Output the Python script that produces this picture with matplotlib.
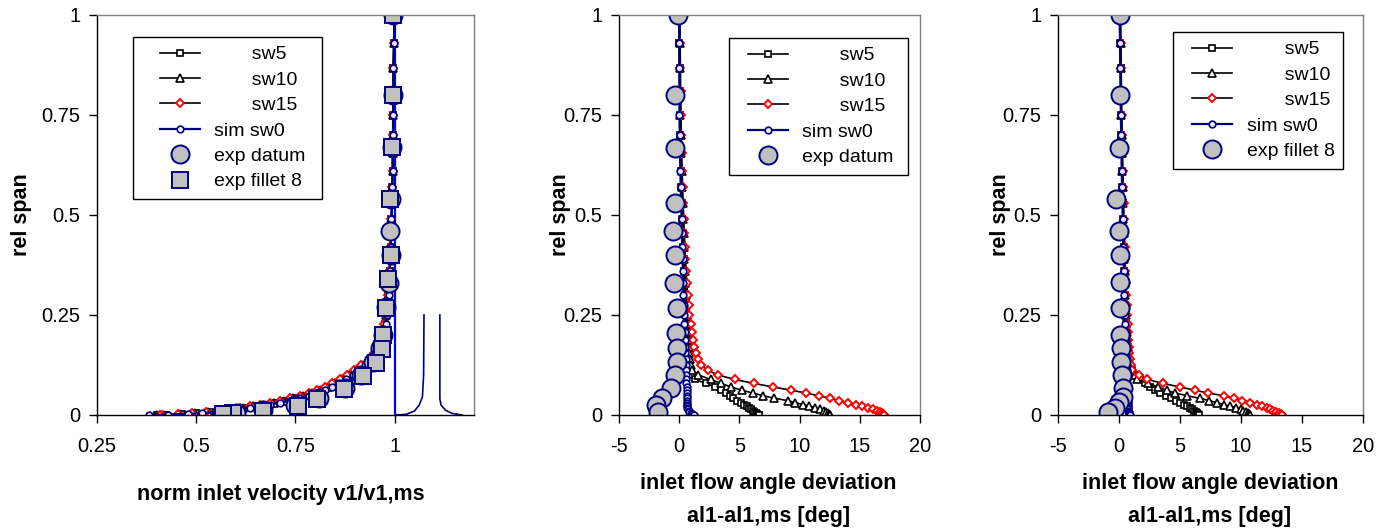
import matplotlib
matplotlib.use('Agg')
import matplotlib.pyplot as plt
from matplotlib.legend_handler import HandlerLine2D

plt.rcParams['font.family'] = ['Liberation Sans', 'DejaVu Sans']

# ---------------- data ----------------
span_sim = [1.0, 0.93, 0.867, 0.81, 0.75, 0.70, 0.655, 0.61, 0.57, 0.53, 0.49, 0.455,
            0.42, 0.39, 0.36, 0.33, 0.30, 0.275, 0.25, 0.228, 0.207, 0.188, 0.17, 0.154,
            0.139, 0.125, 0.112, 0.10, 0.089, 0.079, 0.07, 0.062, 0.055, 0.048, 0.042,
            0.036, 0.031, 0.026, 0.022, 0.018, 0.014, 0.011, 0.008, 0.005, 0.003, 0.001, 0.0]

# left panel: normalised inlet velocity
v_sw5 = [1.0, 0.998, 0.997, 0.997, 0.996, 0.996, 0.995, 0.995, 0.994, 0.993, 0.992, 0.991,
         0.99, 0.989, 0.988, 0.986, 0.984, 0.982, 0.979, 0.976, 0.972, 0.966, 0.96, 0.952,
         0.942, 0.921, 0.906, 0.89, 0.872, 0.854, 0.836, 0.817, 0.796, 0.774, 0.75,
         0.725, 0.7, 0.674, 0.648, 0.622, 0.594, 0.566, 0.535, 0.5, 0.465, 0.425, 0.40]
v_sw10 = [1.0, 0.998, 0.997, 0.997, 0.996, 0.996, 0.995, 0.995, 0.994, 0.993, 0.992, 0.991,
          0.99, 0.989, 0.987, 0.986, 0.984, 0.981, 0.978, 0.975, 0.971, 0.965, 0.958, 0.95,
          0.94, 0.918, 0.903, 0.886, 0.868, 0.85, 0.831, 0.812, 0.791, 0.769, 0.745,
          0.72, 0.695, 0.669, 0.643, 0.617, 0.589, 0.561, 0.53, 0.496, 0.46, 0.42, 0.40]
v_sw15 = [1.0, 0.998, 0.997, 0.997, 0.996, 0.996, 0.995, 0.995, 0.994, 0.993, 0.992, 0.99,
          0.989, 0.988, 0.986, 0.985, 0.983, 0.98, 0.977, 0.973, 0.969, 0.963, 0.956, 0.947,
          0.937, 0.914, 0.898, 0.881, 0.862, 0.843, 0.824, 0.804, 0.783, 0.761, 0.737,
          0.712, 0.687, 0.661, 0.636, 0.61, 0.582, 0.555, 0.525, 0.49, 0.455, 0.415, 0.41]
v_sim0 = [1.0, 0.998, 0.997, 0.997, 0.996, 0.996, 0.995, 0.995, 0.994, 0.993, 0.992, 0.991,
          0.99, 0.989, 0.988, 0.987, 0.985, 0.983, 0.98, 0.977, 0.973, 0.968, 0.962, 0.955,
          0.946, 0.925, 0.91, 0.895, 0.878, 0.86, 0.843, 0.825, 0.805, 0.783, 0.76,
          0.735, 0.71, 0.685, 0.66, 0.635, 0.605, 0.58, 0.55, 0.515, 0.48, 0.43, 0.38]
v_ref_x = [1.0, 1.0, 1.01]
v_ref_y = [1.0, 0.0, 0.0]
v_tail1_x = [1.01, 1.03, 1.05, 1.062, 1.07, 1.073, 1.074]
v_tail1_y = [0.0, 0.002, 0.01, 0.025, 0.045, 0.10, 0.25]
v_tail2_x = [1.114, 1.114, 1.117, 1.128, 1.145, 1.17]
v_tail2_y = [0.25, 0.04, 0.025, 0.012, 0.004, 0.0]

span_exp_datum_v = [1.0, 0.8, 0.67, 0.54, 0.46, 0.40, 0.33, 0.27, 0.2, 0.167, 0.133, 0.1,
                    0.067, 0.042, 0.025, 0.012, 0.005]
v_exp_datum = [0.996, 0.995, 0.993, 0.99, 0.988, 0.99, 0.985, 0.978, 0.97, 0.962, 0.945,
               0.915, 0.875, 0.81, 0.748, 0.668, 0.60]
span_exp_fillet_v = [1.0, 0.8, 0.67, 0.54, 0.40, 0.34, 0.267, 0.2, 0.165, 0.13, 0.097,
                     0.065, 0.04, 0.023, 0.01, 0.005, 0.003]
v_exp_fillet = [0.996, 0.995, 0.993, 0.988, 0.99, 0.983, 0.977, 0.97, 0.968, 0.953, 0.92,
                0.872, 0.804, 0.756, 0.668, 0.593, 0.567]

# middle panel: inlet flow angle deviation (datum)
a_sw5_d = [0.0, 0.02, 0.03, 0.05, 0.06, 0.1, 0.12, 0.15, 0.18, 0.22, 0.26, 0.3, 0.33, 0.36,
           0.4, 0.43, 0.46, 0.5, 0.53, 0.56, 0.6, 0.63, 0.66, 0.7, 0.74,
           0.8, 0.9, 1.05, 1.3, 2.2, 3.0, 3.45, 3.85, 4.2, 4.5, 4.8, 5.1, 5.4, 5.6, 5.8,
           5.95, 6.1, 6.25, 6.4, 6.5, 6.55, 6.6]
a_sw10_d = [0.0, 0.03, 0.05, 0.07, 0.1, 0.13, 0.16, 0.2, 0.24, 0.28, 0.32, 0.36, 0.4, 0.44,
            0.48, 0.52, 0.56, 0.6, 0.64, 0.68, 0.72, 0.76, 0.8, 0.84, 0.88,
            0.95, 1.1, 1.6, 2.6, 3.5, 4.3, 5.2, 6.1, 7.0, 7.9, 9.0, 9.6, 10.3, 10.8, 11.3,
            11.7, 12.0, 12.2, 12.35, 12.45, 12.5, 12.55]
a_sw15_d = [0.05, 0.08, 0.1, 0.12, 0.15, 0.18, 0.2, 0.25, 0.28, 0.32, 0.38, 0.42, 0.48, 0.52,
            0.58, 0.63, 0.7, 0.78, 0.85, 0.95, 1.05, 1.15, 1.25, 1.38, 1.55,
            1.85, 2.4, 3.2, 4.6, 6.2, 7.8, 9.3, 10.5, 11.6, 12.5, 13.3, 14.0, 14.7, 15.2,
            15.7, 16.1, 16.4, 16.65, 16.85, 16.95, 17.0, 17.05]
a_sim0_d = [-0.02, 0.0, 0.0, 0.02, 0.02, 0.05, 0.06, 0.1, 0.12, 0.15, 0.2, 0.22, 0.25, 0.28,
            0.3, 0.33, 0.35, 0.38, 0.4, 0.42, 0.45, 0.47, 0.5, 0.52, 0.54,
            0.55, 0.57, 0.58, 0.6, 0.6, 0.62, 0.62, 0.63, 0.63, 0.63, 0.64, 0.64, 0.65, 0.66,
            0.68, 0.72, 0.78, 0.85, 0.95, 1.05, 1.15, 1.2]
span_exp_datum_a = [1.0, 0.8, 0.667, 0.53, 0.46, 0.40, 0.33, 0.267, 0.205, 0.167, 0.133,
                    0.10, 0.067, 0.042, 0.025, 0.008]
a_exp_datum = [-0.1, -0.35, -0.35, -0.35, -0.52, -0.35, -0.43, -0.18, -0.27, -0.18, -0.18,
               -0.35, -0.68, -1.4, -1.9, -1.75]

# right panel: inlet flow angle deviation (fillet 8)
a_sw5_f = [0.1, 0.12, 0.14, 0.16, 0.18, 0.2, 0.22, 0.25, 0.28, 0.3, 0.33, 0.35, 0.38, 0.4,
           0.43, 0.45, 0.48, 0.5, 0.53, 0.55, 0.58, 0.6, 0.63, 0.66, 0.72,
           0.85, 1.05, 1.35, 1.75, 2.15, 2.5, 2.95, 3.4, 3.85, 4.25, 4.65, 5.0, 5.3, 5.55,
           5.8, 6.0, 6.15, 6.3, 6.4, 6.45, 6.5, 6.55]
a_sw10_f = [0.1, 0.13, 0.15, 0.17, 0.2, 0.22, 0.25, 0.28, 0.3, 0.33, 0.36, 0.38, 0.41, 0.44,
            0.46, 0.49, 0.52, 0.55, 0.58, 0.61, 0.64, 0.67, 0.7, 0.74, 0.8,
            0.9, 1.1, 1.3, 1.5, 2.4, 3.2, 3.9, 4.6, 5.6, 6.6, 7.4, 8.0, 8.6, 9.1, 9.6, 10.0,
            10.2, 10.4, 10.55, 10.65, 10.7, 10.75]
a_sw15_f = [0.12, 0.15, 0.18, 0.2, 0.23, 0.26, 0.29, 0.32, 0.35, 0.38, 0.41, 0.44, 0.47, 0.5,
            0.53, 0.56, 0.6, 0.63, 0.66, 0.7, 0.73, 0.77, 0.81, 0.85, 0.9,
            0.95, 1.1, 1.6, 2.3, 3.6, 5.0, 6.2, 7.3, 8.6, 9.4, 10.1, 10.7, 11.3, 11.7, 12.1,
            12.4, 12.65, 12.9, 13.1, 13.25, 13.35, 13.4]
a_sim0_f = [0.05, 0.08, 0.1, 0.12, 0.15, 0.18, 0.2, 0.22, 0.25, 0.28, 0.3, 0.32, 0.35, 0.37,
            0.4, 0.42, 0.45, 0.47, 0.5, 0.52, 0.54, 0.56, 0.58, 0.6, 0.62,
            0.63, 0.64, 0.65, 0.66, 0.67, 0.67, 0.68, 0.68, 0.69, 0.69, 0.7, 0.7, 0.71, 0.72,
            0.73, 0.75, 0.77, 0.8, 0.83, 0.86, 0.88, 0.9]
span_exp_fillet_a = [1.0, 0.8, 0.667, 0.54, 0.46, 0.40, 0.333, 0.267, 0.2, 0.167, 0.133,
                     0.1, 0.067, 0.045, 0.033, 0.017, 0.008]
a_exp_fillet = [0.08, 0.08, 0.0, -0.25, 0.0, 0.08, 0.08, 0.08, 0.08, 0.16, 0.16, 0.25, 0.33,
                0.3, 0.0, -0.33, -0.9]

yticks = [0, 0.25, 0.5, 0.75, 1]
ytick_labels = ['0', '0.25', '0.5', '0.75', '1']
xticks_v = [0.25, 0.5, 0.75, 1.0]
xtick_labels_v = ['0.25', '0.5', '0.75', '1']
xticks_a = [-5, 0, 5, 10, 15, 20]
xtick_labels_a = ['-5', '0', '5', '10', '15', '20']

# ---------------- styles ----------------
NAVY = '#000080'
GRAY = '#C0C0C0'
FS_TICK = 14.5
FS_LAB = 15.5
FS_LEG = 14
st_sw5 = dict(color='black', lw=1.2, marker='s', ms=4.2, mfc='white', mec='black', mew=1.2)
st_sw10 = dict(color='black', lw=1.2, marker='^', ms=5.2, mfc='white', mec='black', mew=1.2)
st_sw15 = dict(color='black', lw=1.2, marker='D', ms=4.0, mfc='white', mec='red', mew=1.4)
st_sim0 = dict(color=NAVY, lw=1.6, marker='o', ms=4.8, mfc='#E8E8FF', mec=NAVY, mew=1.2)
st_datum = dict(ls='none', marker='o', ms=13, mfc=GRAY, mec=NAVY, mew=1.4)
st_fillet = dict(ls='none', marker='s', ms=12, mfc=GRAY, mec=NAVY, mew=1.4)

W, H = 1392, 531
fig = plt.figure(figsize=(W / 100, H / 100), dpi=100)


class ShiftedLineHandler(HandlerLine2D):
    """Draw the legend sample as a 40 px segment, shifted right inside the handle box."""

    def __init__(self, shift_pt, seg_pt, **kw):
        super().__init__(**kw)
        self.shift_pt = shift_pt
        self.seg_pt = seg_pt

    def create_artists(self, legend, orig_handle, xdescent, ydescent, width, height,
                       fontsize, trans):
        return super().create_artists(legend, orig_handle, xdescent - self.shift_pt,
                                      ydescent, self.seg_pt, height, fontsize, trans)


def add_ax(x0, x1, y0=15, y1=415):
    return fig.add_axes([x0 / W, 1 - y1 / H, (x1 - x0) / W, (y1 - y0) / H])


def style(ax, xlim, xt, xtl):
    ax.set_xlim(*xlim)
    ax.set_ylim(0, 1)
    ax.set_xticks(xt)
    ax.set_xticklabels(xtl)
    ax.set_yticks(yticks)
    ax.set_yticklabels(ytick_labels)
    for s in ('top', 'right'):
        ax.spines[s].set_color('#808080')
        ax.spines[s].set_linewidth(1.0)
    for s in ('left', 'bottom'):
        ax.spines[s].set_color('black')
        ax.spines[s].set_linewidth(1.0)
    ax.tick_params(axis='both', direction='out', length=6, width=1, labelsize=FS_TICK)
    ax.tick_params(axis='x', pad=10)
    ax.tick_params(axis='y', pad=6)
    ax.set_ylabel('rel span', fontsize=FS_LAB, fontweight='bold')


def legend(ax, x0, top, handle_off_px):
    fs_px = FS_LEG * 100 / 72
    bp = 0.45
    shift_px = handle_off_px - bp * fs_px
    seg_px = 40
    hl = (shift_px + seg_px) / fs_px
    handler = ShiftedLineHandler(shift_px * 0.72, seg_px * 0.72)
    handles, labels = ax.get_legend_handles_labels()
    leg = ax.legend(handles, labels, loc='upper left', bbox_to_anchor=(x0, top),
                    borderaxespad=0, fontsize=FS_LEG, numpoints=1, fancybox=False,
                    framealpha=1, edgecolor='black', handlelength=hl,
                    handletextpad=0.75, labelspacing=0.4, borderpad=bp,
                    handler_map={h: handler for h in handles})
    leg.get_frame().set_linewidth(1.0)
    return leg


# ---- left panel ----
ax1 = add_ax(97, 474)
ax1.plot(v_ref_x, v_ref_y, color='#0000FF', lw=1.6, zorder=1)
ax1.plot(v_tail1_x, v_tail1_y, color=NAVY, lw=1.2, zorder=1)
ax1.plot(v_tail2_x, v_tail2_y, color=NAVY, lw=1.2, zorder=1)
ax1.plot(v_sw5, span_sim, label='       sw5', **st_sw5)
ax1.plot(v_sw10, span_sim, label='       sw10  ', **st_sw10)
ax1.plot(v_sw15, span_sim, label='       sw15', **st_sw15)
ax1.plot(v_sim0, span_sim, label='sim sw0', **st_sim0)
ax1.plot(v_exp_datum, span_exp_datum_v, label='exp datum', **st_datum)
ax1.plot(v_exp_fillet, span_exp_fillet_v, label='exp fillet 8  ', **st_fillet)
style(ax1, (0.25, 1.2), xticks_v, xtick_labels_v)
ax1.set_xlabel('norm inlet velocity v1/v1,ms', fontsize=FS_LAB, fontweight='bold')
legend(ax1, 0.095, 0.945, 27)

# ---- middle panel ----
ax2 = add_ax(619, 920)
ax2.plot(a_sw5_d, span_sim, label='       sw5', **st_sw5)
ax2.plot(a_sw10_d, span_sim, label='       sw10 ', **st_sw10)
ax2.plot(a_sw15_d, span_sim, label='       sw15', **st_sw15)
ax2.plot(a_sim0_d, span_sim, label='sim sw0', **st_sim0)
ax2.plot(a_exp_datum, span_exp_datum_a, label='exp datum ', **st_datum)
style(ax2, (-5, 20), xticks_a, xtick_labels_a)
ax2.set_xlabel('inlet flow angle deviation\nal1-al1,ms [deg]', fontsize=FS_LAB,
               fontweight='bold', linespacing=1.75)
legend(ax2, 0.365, 0.9425, 19)

# ---- right panel ----
ax3 = add_ax(1058, 1363)
ax3.plot(a_sw5_f, span_sim, label='       sw5', **st_sw5)
ax3.plot(a_sw10_f, span_sim, label='       sw10', **st_sw10)
ax3.plot(a_sw15_f, span_sim, label='       sw15', **st_sw15)
ax3.plot(a_sim0_f, span_sim, label='sim sw0', **st_sim0)
ax3.plot(a_exp_fillet, span_exp_fillet_a, label='exp fillet 8', **st_datum)
style(ax3, (-5, 20), xticks_a, xtick_labels_a)
ax3.set_xlabel('inlet flow angle deviation\nal1-al1,ms [deg]', fontsize=FS_LAB,
               fontweight='bold', linespacing=1.75)
legend(ax3, 0.377, 0.9575, 19)

for ax in (ax1, ax2, ax3):
    ax.xaxis.label.set_va('baseline')
    ax.yaxis.label.set_va('center')

ax1.xaxis.set_label_coords(0.487, -0.2125)
ax2.xaxis.set_label_coords(0.497, -0.2675)
ax3.xaxis.set_label_coords(0.498, -0.2675)
ax1.yaxis.set_label_coords(-0.2, 0.5)
ax2.yaxis.set_label_coords(-0.196, 0.5)
ax3.yaxis.set_label_coords(-0.19, 0.5)

fig.savefig('out.png', dpi=100)
